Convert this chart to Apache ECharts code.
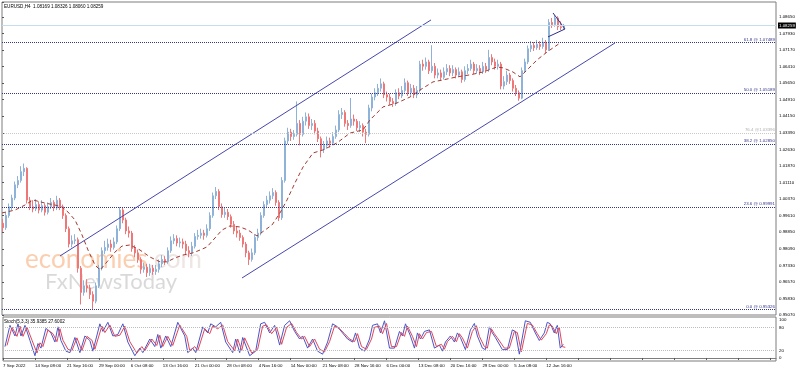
<!DOCTYPE html>
<html><head><meta charset="utf-8">
<script src="https://cdn.jsdelivr.net/npm/echarts@6/dist/echarts.min.js"></script>
<style>html,body{margin:0;padding:0;background:#fff}#c{width:798px;height:372px}</style>
</head><body><div id="c"></div>
<script>
// ---------- data (12-hour candles, x = 4H bar index) ----------
const firstOpen = 0.9925;
const closes = [
0.9905,0.9960,1.0000,1.0040,1.0100,1.0120,1.0160,1.0175,1.0030,1.0000,
0.9990,1.0010,0.9985,1.0005,0.9975,1.0000,1.0020,0.9995,1.0030,1.0000,
0.9960,0.9900,0.9830,0.9845,0.9850,0.9720,0.9610,0.9640,0.9630,0.9600,
0.9570,0.9640,0.9720,0.9800,0.9815,0.9830,0.9815,0.9840,0.9900,0.9985,
0.9940,0.9890,0.9880,0.9810,0.9790,0.9760,0.9715,0.9725,0.9700,0.9720,
0.9705,0.9715,0.9740,0.9760,0.9750,0.9800,0.9845,0.9855,0.9835,0.9840,
0.9830,0.9800,0.9790,0.9820,0.9865,0.9870,0.9880,0.9870,0.9900,0.9960,
1.0050,1.0070,1.0000,0.9965,0.9975,0.9955,0.9920,0.9890,0.9880,0.9860,
0.9830,0.9790,0.9760,0.9790,0.9860,0.9880,0.9960,1.0010,1.0030,1.0050,
1.0065,1.0020,0.9950,1.0120,1.0300,1.0340,1.0320,1.0330,1.0380,1.0330,
1.0390,1.0410,1.0370,1.0380,1.0345,1.0310,1.0260,1.0280,1.0300,1.0290,
1.0320,1.0350,1.0420,1.0430,1.0380,1.0370,1.0400,1.0390,1.0360,1.0370,
1.0340,1.0330,1.0450,1.0500,1.0520,1.0540,1.0560,1.0510,1.0500,1.0480,
1.0470,1.0520,1.0505,1.0530,1.0565,1.0520,1.0540,1.0510,1.0530,1.0650,
1.0640,1.0660,1.0620,1.0640,1.0600,1.0610,1.0590,1.0615,1.0630,1.0610,
1.0625,1.0600,1.0615,1.0580,1.0620,1.0630,1.0650,1.0620,1.0630,1.0615,
1.0640,1.0625,1.0680,1.0660,1.0640,1.0650,1.0550,1.0570,1.0600,1.0575,
1.0540,1.0520,1.0495,1.0620,1.0660,1.0720,1.0735,1.0725,1.0740,1.0730,
1.0750,1.0715,1.0840,1.0830,1.0860,1.0820,1.0817,1.0826];
const highs = [
0.9945,0.9975,1.0015,1.0055,1.0115,1.0140,1.0185,1.0197,1.0180,1.0045,
1.0030,1.0035,1.0025,1.0030,1.0015,1.0020,1.0040,1.0030,1.0050,1.0040,
1.0010,0.9970,0.9910,0.9870,0.9875,0.9860,0.9730,0.9665,0.9670,0.9645,
0.9615,0.9655,0.9735,0.9815,0.9845,0.9855,0.9850,0.9860,0.9915,0.9999,
0.9995,0.9950,0.9910,0.9890,0.9825,0.9805,0.9770,0.9745,0.9740,0.9740,
0.9735,0.9735,0.9760,0.9780,0.9775,0.9815,0.9865,0.9875,0.9870,0.9860,
0.9855,0.9845,0.9820,0.9840,0.9880,0.9895,0.9900,0.9895,0.9920,0.9975,
1.0065,1.0090,1.0080,1.0015,0.9995,0.9990,0.9965,0.9935,0.9910,0.9895,
0.9870,0.9840,0.9800,0.9810,0.9875,0.9900,0.9975,1.0025,1.0050,1.0070,
1.0085,1.0075,1.0030,1.0135,1.0315,1.0360,1.0355,1.0350,1.0480,1.0395,
1.0410,1.0430,1.0425,1.0400,1.0395,1.0360,1.0320,1.0300,1.0320,1.0315,
1.0340,1.0370,1.0440,1.0450,1.0440,1.0395,1.0496,1.0420,1.0400,1.0390,
1.0380,1.0355,1.0465,1.0515,1.0540,1.0560,1.0585,1.0570,1.0525,1.0515,
1.0495,1.0535,1.0540,1.0550,1.0585,1.0575,1.0560,1.0555,1.0550,1.0665,
1.0670,1.0680,1.0670,1.0736,1.0655,1.0630,1.0625,1.0635,1.0650,1.0645,
1.0645,1.0635,1.0635,1.0625,1.0640,1.0650,1.0670,1.0660,1.0650,1.0645,
1.0660,1.0655,1.0715,1.0695,1.0675,1.0670,1.0660,1.0595,1.0620,1.0610,
1.0585,1.0555,1.0530,1.0635,1.0675,1.0735,1.0755,1.0750,1.0760,1.0755,
1.0770,1.0760,1.0855,1.0860,1.0874,1.0868,1.0845,1.0833];
const lows = [
0.9885,0.9895,0.9950,0.9985,1.0030,1.0085,1.0110,1.0140,1.0015,0.9985,
0.9975,0.9980,0.9970,0.9975,0.9960,0.9965,0.9990,0.9980,0.9985,0.9985,
0.9945,0.9885,0.9815,0.9815,0.9830,0.9700,0.9555,0.9595,0.9610,0.9580,
0.9535,0.9560,0.9630,0.9710,0.9785,0.9800,0.9795,0.9805,0.9830,0.9890,
0.9925,0.9875,0.9860,0.9795,0.9770,0.9745,0.9695,0.9700,0.9680,0.9685,
0.9690,0.9690,0.9700,0.9725,0.9735,0.9740,0.9790,0.9830,0.9820,0.9815,
0.9810,0.9785,0.9770,0.9775,0.9810,0.9850,0.9855,0.9850,0.9860,0.9890,
0.9950,1.0035,0.9985,0.9950,0.9950,0.9940,0.9905,0.9875,0.9860,0.9845,
0.9815,0.9770,0.9735,0.9750,0.9780,0.9845,0.9870,0.9950,0.9995,1.0015,
1.0035,1.0005,0.9935,0.9940,1.0110,1.0285,1.0300,1.0305,1.0320,1.0280,
1.0320,1.0370,1.0355,1.0350,1.0330,1.0295,1.0225,1.0245,1.0265,1.0270,
1.0280,1.0310,1.0340,1.0400,1.0365,1.0350,1.0360,1.0370,1.0345,1.0340,
1.0320,1.0290,1.0320,1.0435,1.0485,1.0505,1.0525,1.0495,1.0480,1.0465,
1.0455,1.0460,1.0490,1.0495,1.0520,1.0505,1.0505,1.0495,1.0495,1.0520,
1.0620,1.0625,1.0605,1.0610,1.0585,1.0585,1.0575,1.0580,1.0600,1.0595,
1.0595,1.0585,1.0590,1.0565,1.0570,1.0605,1.0620,1.0605,1.0605,1.0600,
1.0605,1.0610,1.0615,1.0645,1.0625,1.0625,1.0535,1.0535,1.0555,1.0560,
1.0525,1.0505,1.0483,1.0490,1.0610,1.0650,1.0705,1.0710,1.0715,1.0715,
1.0720,1.0700,1.0710,1.0815,1.0820,1.0805,1.0805,1.0806];

const maBars = [0,13,23,31,43,53,60,66,73,80,86,93,98,105,113,120,128,138,148,158,
165,173,181,191,198,205,213,220,228,238,246,255,263,270,278,285,293,301,311,321,
335,348,361,368,381,395,408,418,431,441,455,468,481,495,501,511,518,525,535,545,558];
const maValues = [0.9972,0.9985,1.0008,1.0031,1.0017,1.0008,0.9999,0.9976,0.9940,0.9872,
0.9803,0.9735,0.9712,0.9749,0.9794,0.9821,0.9826,0.9803,0.9771,0.9749,
0.9749,0.9767,0.9780,0.9790,0.9803,0.9817,0.9858,0.9894,0.9913,0.9908,
0.9894,0.9867,0.9894,0.9917,0.9972,1.0031,1.0109,1.0181,1.0245,1.0259,
1.0291,1.0336,1.0350,1.0396,1.0455,1.0473,1.0500,1.0532,1.0569,1.0578,
1.0592,1.0601,1.0614,1.0637,1.0633,1.0614,1.0592,1.0623,1.0669,1.0705,1.0746];

const stochBars = [2,7,12,15,18,22,27,32,35,38,43,48,52,55,58,63,67,72,77,82,
87,90,97,100,105,110,115,120,125,132,137,140,147,152,155,158,163,168,175,178,
182,185,190,193,200,205,208,213,218,223,230,233,237,240,247,253,258,262,267,272,
277,282,287,292,297,300,305,310,315,320,325,330,335,340,345,350,353,357,362,367,
370,375,378,382,387,392,397,400,403,408,412,415,418,422,427,432,437,440,443,448,
452,455,458,463,468,472,475,480,483,487,490,493,500,505,510,513,517,519,523,528,
533,537,542,545,548,552,555,558,561];
const stochK = [30,86,58,90,58,86,46,6,38,26,78,66,42,82,46,18,14,54,14,58,
46,18,90,70,94,58,62,90,42,6,26,14,50,30,62,26,58,30,94,78,
58,14,26,14,82,66,90,82,94,42,14,50,14,54,6,18,90,94,66,86,
34,86,98,70,50,58,26,50,18,10,42,90,82,66,50,42,66,26,18,50,
86,90,66,98,26,26,70,58,90,58,26,66,50,70,74,26,34,18,42,58,
42,66,54,22,74,91,58,26,22,82,66,54,22,22,74,70,10,6,98,94,
66,46,66,94,90,66,86,26,36];
const stochD = [33,81,57,84,57,81,47,13,40,30,74,64,43,77,47,23,19,53,19,57,
47,23,84,67,87,57,60,84,43,13,30,19,50,33,60,30,57,33,87,74,
57,19,30,19,77,64,84,77,87,43,19,50,19,53,13,23,84,87,64,81,
36,81,91,67,50,57,30,50,23,16,43,84,77,64,50,43,64,30,23,50,
81,84,64,91,30,30,67,57,84,57,30,64,50,67,70,30,36,23,43,57,
43,64,53,26,70,85,57,30,26,77,64,53,26,26,70,67,16,13,91,87,
64,47,64,87,84,64,81,30,28];
const stochLevels = [80, 20];
const stochAxisLabels = [0, 20, 80, 100];

const timeLabels = ['7 Sep 2022','14 Sep 08:00','21 Sep 16:00','29 Sep 00:00','6 Oct 08:00',
'13 Oct 16:00','21 Oct 00:00','28 Oct 08:00','4 Nov 16:00','14 Nov 00:00','21 Nov 08:00',
'28 Nov 16:00','6 Dec 00:00','13 Dec 08:00','20 Dec 16:00','29 Dec 00:00','5 Jan 08:00','12 Jan 16:00'];
const priceLabels = ['0.95070','0.95830','0.96570','0.97330','0.98090','0.98850','0.99610',
'1.00370','1.01110','1.01870','1.02630','1.03390','1.04150','1.04910','1.05650','1.06410',
'1.07170','1.07930','1.08650'];

const fibValues = [1.07489, 1.05189, 1.02850, 0.99991, 0.95326];
const fibLabels = ['61.8 @ 1.07489','50.0 @ 1.05189','38.2 @ 1.02850','23.6 @ 0.99991','0.0 @ 0.95326'];
const fibGreyValue = 1.0336;
const fibGreyLabel = '76.4 @1.03396';

const channelUpper = [[58, 0.97759], [429, 1.08513]];
const channelLower = [[240, 0.96756], [613, 1.07465]];
const triangleUpper = [[551, 1.0883], [563, 1.0810]];
const triangleLower = [[546, 1.0774], [563, 1.0810]];

const lastPrice = 1.08259;
const headerText = 'EURUSD,H4  1.08169 1.08326 1.08060 1.08259';
const stochHeader = 'Stoch(5,3,3) 35.9385 27.6002';

// ---------- chart ----------
const PRICE_STEP = 0.0075452;
const Y_MIN = PRICE_STEP * 126;
const Y_MAX = 1.0933;
const BAR_STEP = 32;
const FONT = 'Liberation Sans';
const SMALL = 4.4;

const candleData = closes.map((c, i) => [3 * i + 1, i === 0 ? firstOpen : closes[i - 1], c, lows[i], highs[i]]);
const maData = maBars.map((b, i) => [b, maValues[i]]);
const kData = stochBars.map((b, i) => [b, stochK[i]]);
const dData = stochBars.map((b, i) => [b + 2, stochD[i]]);

const navy = '#35358f';
const fibMarks = fibValues.map((v, i) => ({
  yAxis: v,
  lineStyle: {color: navy, type: [1, 1], width: 1},
  label: {show: true, position: 'insideEndTop', formatter: fibLabels[i], color: navy,
          fontSize: SMALL, fontFamily: FONT, distance: 1}
}));
fibMarks.push({
  yAxis: fibGreyValue,
  lineStyle: {color: '#c8c8c8', type: [1, 1], width: 1},
  label: {show: true, position: 'insideEndTop', formatter: fibGreyLabel, color: '#b0b0b0',
          fontSize: SMALL, fontFamily: FONT, distance: 1}
});
fibMarks.push({
  yAxis: lastPrice,
  lineStyle: {color: '#c4dfe9', type: 'solid', width: 1},
  label: {show: true, position: 'end', formatter: lastPrice.toFixed(5), color: '#fff',
          backgroundColor: '#000', padding: [1, 1], distance: 2, fontSize: SMALL, fontFamily: FONT}
});

const chart = echarts.init(document.getElementById('c'));
chart.setOption({
  animation: false,
  backgroundColor: '#fff',
  grid: [
    {left: 2, right: 22, top: 2, height: 313, show: true, borderColor: '#7d7d7d', borderWidth: 1},
    {left: 2, right: 22, top: 317, height: 44, show: true, borderColor: '#7d7d7d', borderWidth: 1}
  ],
  xAxis: [
    {type: 'value', gridIndex: 0, min: 0, max: 774, show: false},
    {type: 'value', gridIndex: 1, min: 0, max: 774, interval: BAR_STEP,
     axisLine: {show: true, lineStyle: {color: '#7d7d7d'}},
     axisTick: {show: true, length: 2, lineStyle: {color: '#555'}},
     splitLine: {show: false},
     axisLabel: {fontSize: SMALL, color: '#000', fontFamily: FONT, align: 'left', margin: 3,
                 showMaxLabel: false,
                 formatter: v => timeLabels[Math.round(v / BAR_STEP)] || ''}}
  ],
  yAxis: [
    {type: 'value', gridIndex: 0, position: 'right', min: Y_MIN, max: Y_MAX, interval: PRICE_STEP,
     axisLine: {show: false}, splitLine: {show: false},
     axisTick: {show: true, length: 2, lineStyle: {color: '#555'}},
     axisLabel: {fontSize: SMALL, color: '#000', fontFamily: FONT, margin: 3, showMinLabel: true,
                 formatter: v => {
                   const k = Math.round((v - Y_MIN) / PRICE_STEP);
                   return Math.abs(v - (Y_MIN + k * PRICE_STEP)) < PRICE_STEP * 0.1 ? (priceLabels[k] || '') : '';
                 }}},
    {type: 'value', gridIndex: 1, position: 'right', min: -8, max: 108, interval: 4,
     axisLine: {show: false}, splitLine: {show: false}, axisTick: {show: false},
     axisLabel: {fontSize: SMALL, color: '#000', fontFamily: FONT, margin: 3,
                 formatter: v => stochAxisLabels.indexOf(Math.round(v)) >= 0 && Math.abs(v - Math.round(v)) < 0.01 ? String(Math.round(v)) : ''}}
  ],
  graphic: [
    {type: 'text', left: 25, top: 247, z: 0, silent: true,
     style: {text: '{a|economies}{b|.com}', rich: {
       a: {fontSize: 26, fontFamily: 'Lato', fill: 'rgba(245,165,110,0.55)'},
       b: {fontSize: 26, fontFamily: 'Lato', fill: 'rgba(215,200,190,0.45)'}}}},
    {type: 'text', left: 45, top: 271, z: 0, silent: true,
     style: {text: 'FxNewsToday', fontSize: 22, fontFamily: 'Lato', fill: 'rgba(170,170,170,0.45)'}},
    {type: 'text', left: 4, top: 4, z: 10, silent: true,
     style: {text: headerText, fontSize: 4.6, fontFamily: FONT, fill: '#000'}},
    {type: 'text', left: 4, top: 319, z: 10, silent: true,
     style: {text: stochHeader, fontSize: 4.6, fontFamily: FONT, fill: '#000'}}
  ],
  series: [
    {type: 'candlestick', xAxisIndex: 0, yAxisIndex: 0, data: candleData, barWidth: 2,
     itemStyle: {color: '#8fb3d8', color0: '#ee7777', borderColor: '#8fb3d8', borderColor0: '#ee7777', borderWidth: 1},
     markLine: {silent: true, symbol: 'none', animation: false, precision: 5, data: fibMarks}},
    {type: 'line', xAxisIndex: 0, yAxisIndex: 0, data: maData, symbol: 'none', silent: true,
     lineStyle: {color: '#a23a30', width: 1, type: [4, 3]}, z: 3},
    {type: 'line', xAxisIndex: 0, yAxisIndex: 0, data: channelUpper, symbol: 'none', silent: true,
     lineStyle: {color: '#4747ad', width: 1}, z: 4},
    {type: 'line', xAxisIndex: 0, yAxisIndex: 0, data: channelLower, symbol: 'none', silent: true,
     lineStyle: {color: '#4747ad', width: 1}, z: 4},
    {type: 'line', xAxisIndex: 0, yAxisIndex: 0, data: triangleUpper, symbol: 'none', silent: true,
     lineStyle: {color: '#2e2e8a', width: 1}, z: 4},
    {type: 'line', xAxisIndex: 0, yAxisIndex: 0, data: triangleLower, symbol: 'none', silent: true,
     lineStyle: {color: '#2e2e8a', width: 1}, z: 4},
    {type: 'line', xAxisIndex: 1, yAxisIndex: 1, data: kData, symbol: 'none', silent: true,
     lineStyle: {color: '#4a55c8', width: 1},
     markLine: {silent: true, symbol: 'none', animation: false, precision: 2, label: {show: false},
                lineStyle: {color: '#bdbdbd', type: [1, 1], width: 1},
                data: stochLevels.map(v => ({yAxis: v}))}},
    {type: 'line', xAxisIndex: 1, yAxisIndex: 1, data: dData, symbol: 'none', silent: true,
     lineStyle: {color: '#e0455a', width: 1}}
  ]
});
</script>
</body></html>
